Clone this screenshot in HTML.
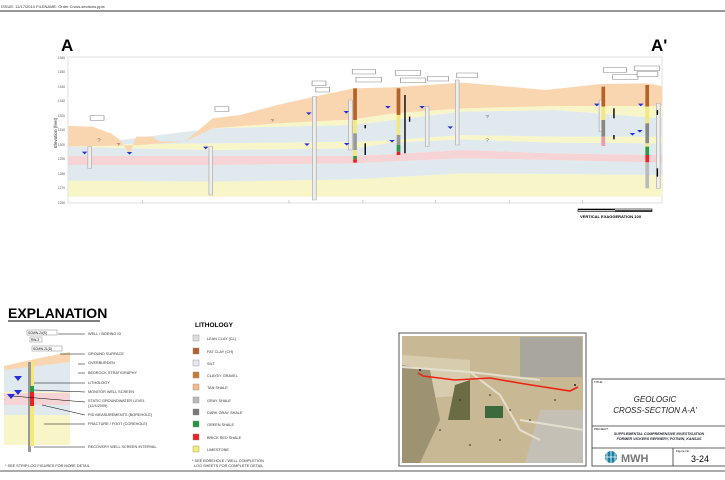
<!DOCTYPE html>
<html><head><meta charset="utf-8"><style>
html,body{margin:0;padding:0;background:#fff;}
body{width:725px;height:475px;overflow:hidden;font-family:"Liberation Sans",sans-serif;}
</style></head><body>
<svg width="725" height="475" viewBox="0 0 725 475" xmlns="http://www.w3.org/2000/svg" font-family="Liberation Sans, sans-serif">
<rect width="725" height="475" fill="#fff"/>
<text x="1" y="8" font-size="4" fill="#333">ISSUE: 11/17/2010   FILENAME: Order Cross-sections.pptx</text>
<line x1="0" y1="11" x2="725" y2="11" stroke="#777" stroke-width="1.5"/>
<text x="61" y="51" font-size="17" font-weight="bold">A</text>
<text x="651" y="51" font-size="17" font-weight="bold">A'</text>
<!-- plot frame -->
<rect x="68" y="57" width="594" height="146" fill="#fff" stroke="#ccc" stroke-width="0.6"/>
<g font-size="3.2" fill="#555" text-anchor="end">
<text x="65" y="59">1360</text><text x="65" y="73">1350</text><text x="65" y="88">1340</text><text x="65" y="102">1330</text><text x="65" y="117">1320</text><text x="65" y="131">1310</text><text x="65" y="146">1300</text><text x="65" y="160">1290</text><text x="65" y="175">1280</text><text x="65" y="189">1270</text><text x="65" y="204">1260</text>
</g>
<text x="0" y="0" font-size="4.5" fill="#333" transform="translate(57,148) rotate(-90)">Elevation (feet)</text>
<g transform="scale(0.4623,0.3333)">
<!-- yellow bottom -->
<polygon fill="#f8f5c8" points="148,542 460,545 765,538 1000,520 1200,522 1432,525 1432,590 148,590"/>
<polygon fill="#dfe9ee" points="148,495 460,495 765,490 1000,475 1200,480 1432,488 1432,525 1200,522 1000,520 765,538 460,545 148,542"/>
<polygon fill="#f6d3d4" points="148,468 460,468 765,468 850,462 1000,450 1200,460 1432,465 1432,488 1200,480 1000,475 765,490 460,495 148,495"/>
<polygon fill="#dfe9ee" points="148,440 290,445 460,450 765,445 850,428 1000,418 1200,428 1432,430 1432,465 1200,460 1000,450 850,462 765,468 460,468 148,468"/>
<polygon fill="#f8f5c8" points="148,440 290,432 460,430 765,425 850,420 1000,405 1200,410 1432,410 1432,430 1200,428 1000,418 850,428 765,445 460,450 290,445"/>
<polygon fill="#dfe9ee" points="148,440 460,385 600,380 765,375 850,360 1000,335 1200,330 1432,355 1432,410 1200,410 1000,405 850,420 765,425 460,430 290,432"/>
<polygon fill="#f8f5c8" points="460,385 600,370 765,358 850,340 1000,325 1200,318 1432,318 1432,355 1200,330 1000,335 850,360 765,375 600,380"/>
<polygon fill="#f9d5b0" points="148,378 200,380 240,400 260,420 280,462 295,410 330,410 345,425 400,425 460,355 520,345 600,315 680,290 765,265 850,262 1000,248 1100,260 1180,270 1300,252 1400,250 1432,258 1432,318 1200,318 1000,325 850,340 765,358 600,370 460,385 400,425 300,435 148,440"/>
<!-- boreholes gray -->
<g fill="#eee" stroke="#aaa" stroke-width="1.5">
<rect x="190" y="440" width="8" height="65"/>
<rect x="452" y="440" width="8" height="145"/>
<rect x="676" y="290" width="8" height="310"/>
<rect x="754" y="300" width="8" height="150"/>
<rect x="920" y="320" width="8" height="120"/>
<rect x="985" y="240" width="8" height="195"/>
<rect x="1296" y="300" width="8" height="95"/>
<rect x="1420" y="310" width="8" height="255"/>
</g>
<!-- colored wells -->
<rect x="764" y="265" width="8" height="95" fill="#b5612a"/>
<rect x="764" y="360" width="8" height="40" fill="#f4e87a"/>
<rect x="764" y="400" width="8" height="50" fill="#999"/>
<rect x="764" y="450" width="8" height="18" fill="#f4e87a"/>
<rect x="764" y="468" width="8" height="10" fill="#2a9a45"/>
<rect x="764" y="478" width="8" height="10" fill="#e22"/>
<rect x="858" y="265" width="8" height="80" fill="#b5612a"/>
<rect x="858" y="345" width="8" height="60" fill="#f4e87a"/>
<rect x="858" y="405" width="8" height="30" fill="#999"/>
<rect x="858" y="435" width="8" height="20" fill="#2a9a45"/>
<rect x="858" y="455" width="8" height="10" fill="#e22"/>
<rect x="1301" y="260" width="8" height="60" fill="#b5612a"/>
<rect x="1301" y="320" width="8" height="40" fill="#f4e87a"/>
<rect x="1301" y="360" width="8" height="50" fill="#888"/>
<rect x="1301" y="410" width="8" height="28" fill="#e9a"/>
<rect x="1396" y="255" width="8" height="65" fill="#b5612a"/>
<rect x="1396" y="320" width="8" height="50" fill="#f4e87a"/>
<rect x="1396" y="370" width="8" height="60" fill="#888"/>
<rect x="1396" y="430" width="8" height="10" fill="#f4e87a"/>
<rect x="1396" y="440" width="8" height="25" fill="#2a9a45"/>
<rect x="1396" y="465" width="8" height="22" fill="#e22"/>
<rect x="1396" y="487" width="8" height="78" fill="#bbb"/>
<g stroke="#000" stroke-width="3">
<line x1="790" y1="375" x2="790" y2="385"/><line x1="790" y1="430" x2="790" y2="465"/>
<line x1="876" y1="285" x2="876" y2="460"/><line x1="886" y1="350" x2="886" y2="365"/>
<line x1="1328" y1="325" x2="1328" y2="355"/><line x1="1328" y1="405" x2="1328" y2="418"/>
<line x1="1422" y1="330" x2="1422" y2="345"/><line x1="1422" y1="505" x2="1422" y2="530"/>
</g>
<!-- water levels -->
<g fill="#2233dd">
<polygon points="177,455 189,455 183,463"/><polygon points="274,456 286,456 280,464"/><polygon points="439,440 451,440 445,448"/>
<polygon points="662,337 674,337 668,345"/><polygon points="658,430 670,430 664,438"/><polygon points="743,333 755,333 749,341"/>
<polygon points="744,429 756,429 750,437"/><polygon points="833,318 845,318 839,326"/><polygon points="842,420 854,420 848,428"/>
<polygon points="907,318 919,318 913,326"/><polygon points="968,379 980,379 974,387"/><polygon points="1285,311 1297,311 1291,319"/>
<polygon points="1380,311 1392,311 1386,319"/><polygon points="1362,399 1374,399 1368,407"/><polygon points="1378,390 1390,390 1384,398"/>
</g>
<!-- labels -->
<g fill="#fff" stroke="#888" stroke-width="1.5">
<rect x="195" y="347" width="30" height="14"/><rect x="465" y="320" width="30" height="14"/>
<rect x="675" y="243" width="30" height="14"/><rect x="683" y="262" width="30" height="14"/>
<rect x="762" y="208" width="50" height="14"/><rect x="770" y="232" width="55" height="14"/>
<rect x="855" y="212" width="55" height="14"/><rect x="866" y="234" width="55" height="14"/>
<rect x="925" y="229" width="45" height="14"/><rect x="988" y="219" width="45" height="14"/>
<rect x="1305" y="203" width="50" height="14"/><rect x="1325" y="224" width="55" height="14"/>
<rect x="1372" y="198" width="55" height="14"/><rect x="1378" y="215" width="45" height="14"/>
</g>
<g fill="#555" font-size="14">
<text x="210" y="425">?</text><text x="252" y="438">?</text><text x="585" y="366">?</text><text x="1050" y="354">?</text><text x="1050" y="425">?</text>
</g>
<g stroke="#bbb" stroke-width="1.5">
<line x1="308" y1="600" x2="308" y2="610"/><line x1="625" y1="600" x2="625" y2="610"/><line x1="785" y1="600" x2="785" y2="610"/><line x1="942" y1="600" x2="942" y2="610"/><line x1="1102" y1="600" x2="1102" y2="610"/><line x1="1260" y1="600" x2="1260" y2="610"/>
</g>
</g>
<!-- scale bar -->
<rect x="578" y="209" width="74" height="2.5" fill="#fff" stroke="#000" stroke-width="0.6"/>
<rect x="578" y="209" width="37" height="1.2" fill="#000"/>
<rect x="615" y="210.3" width="37" height="1.2" fill="#000"/>
<text x="580" y="218" font-size="4" font-weight="bold">VERTICAL EXAGGERATION 10X</text>
<!-- EXPLANATION -->
<text x="8" y="318" font-size="14" font-weight="bold">EXPLANATION</text>
<line x1="8" y1="321" x2="100" y2="321" stroke="#000" stroke-width="1"/>
<g>
<polygon points="4,366 40,358 70,352 70,445 4,445" fill="#dfe9ee"/>
<polygon points="4,366 40,358 70,352 70,362 4,370" fill="#f9d5b0"/>
<rect x="4" y="392" width="66" height="8" fill="#f8f5c8"/>
<rect x="4" y="393" width="66" height="12" fill="#f6d3d4"/>
<rect x="4" y="415" width="66" height="30" fill="#f8f5c8"/>
<rect x="28" y="362" width="3" height="90" fill="#999"/>
<rect x="31" y="362" width="3" height="30" fill="#f4e87a"/>
<rect x="30" y="386" width="4" height="6" fill="#2a9a45"/>
<rect x="30" y="392" width="4" height="14" fill="#e22"/>
<rect x="30" y="406" width="4" height="40" fill="#f4e87a"/>
<g fill="#fff" stroke="#888" stroke-width="0.5"><rect x="27" y="330" width="30" height="5"/><rect x="30" y="337" width="12" height="5"/><rect x="32" y="346" width="30" height="5"/></g>
<g font-size="3.2"><text x="28" y="334">SCMW-24(S)</text><text x="31" y="341">RW-3</text><text x="33" y="350">SCMW-21(D)</text></g>
<g fill="#2233dd"><polygon points="14,376 22,376 18,381"/><polygon points="14,390 22,390 18,395"/><polygon points="7,394 15,394 11,399"/></g>
</g>
<g font-size="3.8" fill="#333">
<text x="88" y="335">WELL / BORING ID</text><text x="88" y="355">GROUND SURFACE</text><text x="88" y="364">OVERBURDEN</text><text x="88" y="374">BEDROCK STRATIGRAPHY</text><text x="88" y="384">LITHOLOGY</text><text x="88" y="393">MONITOR WELL SCREEN</text><text x="88" y="402">STATIC GROUNDWATER LEVEL</text><text x="88" y="407">(12/4/2009)</text><text x="88" y="416">PID MEASUREMENTS (BOREHOLE)</text><text x="88" y="425">FRACTURE / FOOT (COREHOLE)</text><text x="88" y="448">RECOVERY WELL SCREEN INTERVAL</text>
<text x="5" y="467">* SEE STRIP LOG FIGURES FOR MORE DETAIL</text>
</g>
<g stroke="#000" stroke-width="0.5">
<line x1="58" y1="334" x2="85" y2="334"/><line x1="60" y1="354" x2="85" y2="354"/><line x1="78" y1="364" x2="85" y2="364"/><line x1="78" y1="373" x2="85" y2="373"/><line x1="34" y1="383" x2="85" y2="383"/><line x1="34" y1="390" x2="85" y2="392"/><line x1="12" y1="396" x2="85" y2="402"/><line x1="42" y1="405" x2="85" y2="415"/><line x1="44" y1="424" x2="85" y2="424"/><line x1="34" y1="447" x2="85" y2="447"/>
</g>
<!-- lithology -->
<text x="195" y="327" font-size="6.5" font-weight="bold">LITHOLOGY</text>
<g stroke="#888" stroke-width="0.4">
<rect x="193" y="335" width="6" height="6" fill="#ddd"/><rect x="193" y="348" width="6" height="6" fill="#b5612a"/><rect x="193" y="360" width="6" height="6" fill="#e6e6f4"/><rect x="193" y="372" width="6" height="6" fill="#c97c30"/><rect x="193" y="384" width="6" height="6" fill="#f6b98a"/><rect x="193" y="397" width="6" height="6" fill="#bbb"/><rect x="193" y="409" width="6" height="6" fill="#777"/><rect x="193" y="421" width="6" height="6" fill="#1a9a3a"/><rect x="193" y="434" width="6" height="6" fill="#e22"/><rect x="193" y="446" width="6" height="6" fill="#f4ee6a"/>
</g>
<g font-size="3.8" fill="#333">
<text x="207" y="340">LEAN CLAY (CL)</text><text x="207" y="353">FAT CLAY (CH)</text><text x="207" y="365">SILT</text><text x="207" y="377">CLAYEY GRAVEL</text><text x="207" y="389">TAN SHALE</text><text x="207" y="402">GRAY SHALE</text><text x="207" y="414">DARK GRAY SHALE</text><text x="207" y="426">GREEN SHALE</text><text x="207" y="439">BRICK RED SHALE</text><text x="207" y="451">LIMESTONE</text>
<text x="192" y="462">* SEE BOREHOLE / WELL COMPLETION</text><text x="194" y="467">LOG SHEETS FOR COMPLETE DETAIL</text>
</g>
<!-- map -->
<rect x="399" y="333" width="187" height="133" fill="#fff" stroke="#555" stroke-width="1"/>
<rect x="402" y="336" width="181" height="127" fill="#c8b994"/>
<rect x="520" y="337" width="62" height="40" fill="#a9a79d"/>
<polygon points="402,355 470,360 470,395 402,400" fill="#d8ccae"/>
<polygon points="455,385 470,380 470,420 448,420" fill="#6b6b44"/>
<polygon points="402,365 430,370 440,420 420,463 402,463" fill="#9d9373"/>
<rect x="485" y="406" width="18" height="12" fill="#3d6a3d"/>
<polygon points="540,410 583,410 583,463 525,463" fill="#c5c0b5"/>
<path d="M402,367 L470,372 L540,380 M470,372 L500,395 L520,430 L540,440 M520,420 L583,430" stroke="#e5dfd0" stroke-width="2" fill="none"/>
<polyline points="418,373 423,376 455,380 490,378 525,384 570,391 578,387" fill="none" stroke="#e21" stroke-width="1.6"/>
<g fill="#222"><circle cx="420" cy="370" r="1"/><circle cx="575" cy="385" r="1"/><circle cx="460" cy="400" r="0.8"/><circle cx="490" cy="395" r="0.8"/><circle cx="510" cy="410" r="0.8"/><circle cx="530" cy="420" r="0.8"/><circle cx="440" cy="430" r="0.8"/><circle cx="555" cy="400" r="0.8"/><circle cx="470" cy="445" r="0.8"/><circle cx="500" cy="440" r="0.8"/></g>
<!-- title block -->
<rect x="592" y="379" width="134" height="87" fill="#fff" stroke="#333" stroke-width="0.8"/>
<line x1="592" y1="426" x2="725" y2="426" stroke="#333" stroke-width="0.8"/>
<line x1="592" y1="448" x2="725" y2="448" stroke="#333" stroke-width="0.8"/>
<line x1="673" y1="448" x2="673" y2="466" stroke="#333" stroke-width="0.8"/>
<text x="594" y="383" font-size="3">TITLE:</text>
<text x="594" y="430" font-size="3">PROJECT:</text>
<text x="676" y="452" font-size="3">Figure No.:</text>
<text x="655" y="402" font-size="8" font-style="italic" text-anchor="middle" fill="#222">GEOLOGIC</text>
<text x="655" y="413" font-size="8" font-style="italic" text-anchor="middle" fill="#222">CROSS-SECTION A-A'</text>
<text x="659" y="435" font-size="3.6" font-style="italic" font-weight="bold" text-anchor="middle" fill="#223">SUPPLEMENTAL COMPREHENSIVE INVESTIGATION</text>
<text x="659" y="440" font-size="3.6" font-style="italic" font-weight="bold" text-anchor="middle" fill="#223">FORMER VICKERS REFINERY, POTWIN, KANSAS</text>
<circle cx="611" cy="457" r="6" fill="#1b7fa0"/>
<path d="M605,457 H617 M611,451 V463 M607,452 V462 M615,452 V462" stroke="#fff" stroke-width="0.8"/>
<text x="621" y="462" font-size="11" font-weight="bold" fill="#777">MWH</text>
<text x="700" y="462" font-size="9" text-anchor="middle">3-24</text>
<line x1="0" y1="471" x2="725" y2="471" stroke="#777" stroke-width="1.2"/>
</svg>
</body></html>
